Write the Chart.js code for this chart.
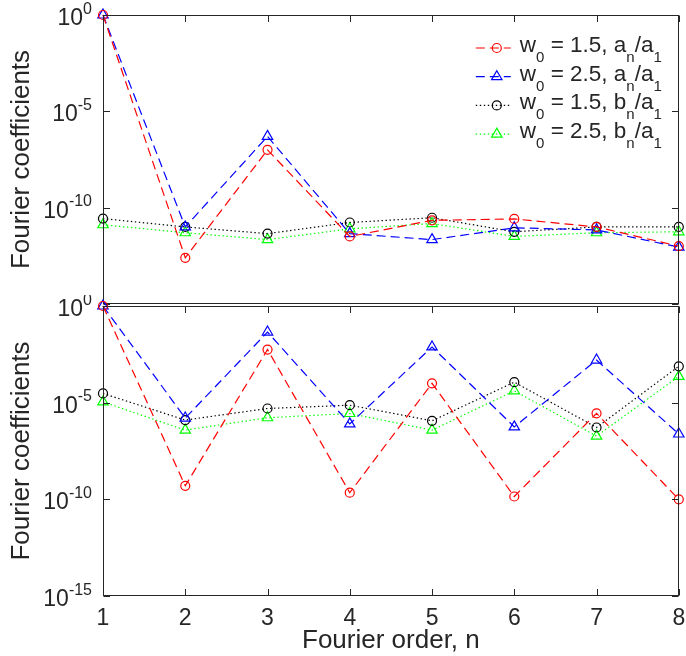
<!DOCTYPE html>
<html>
<head>
<meta charset="utf-8">
<script src="https://cdn.jsdelivr.net/npm/chart.js@4/dist/chart.umd.min.js"></script>
<style>
  html, body { margin: 0; padding: 0; background: #fff; }
  body { width: 686px; height: 656px; position: relative; overflow: hidden; }
  .panel { position: absolute; left: 0; width: 686px; }
  #topPanel { top: 0; height: 320px; }
  #bottomPanel { top: 295px; height: 361px; }
</style>
</head>
<body>
<div class="panel" id="topPanel"><canvas id="topChart"></canvas></div>
<div class="panel" id="bottomPanel"><canvas id="bottomChart"></canvas></div>
<script>
const orders = [1, 2, 3, 4, 5, 6, 7, 8];
const seriesLabels = [
  "w_0 = 1.5, a_n/a_1",
  "w_0 = 2.5, a_n/a_1",
  "w_0 = 1.5, b_n/a_1",
  "w_0 = 2.5, b_n/a_1",
];
const yTickValues = [1, 1e-5, 1e-10, 1e-15];
const yTickLabels = ["10^0", "10^{-5}", "10^{-10}", "10^{-15}"];

// upper panel
const topA15 = [1, 2.5e-13, 1e-7, 3.2e-12, 2.2e-11, 2.6e-11, 1e-11, 1e-12];
const topA25 = [1, 1e-11, 5e-7, 4.5e-12, 2.2e-12, 9e-12, 7e-12, 9e-13];
const topB15 = [2.7e-11, 1e-11, 4.5e-12, 1.7e-11, 3e-11, 5.6e-12, 1e-11, 1e-11];
const topB25 = [1.3e-11, 5e-12, 2.2e-12, 8e-12, 1.5e-11, 3.2e-12, 5e-12, 5.6e-12];

// lower panel
const botA15 = [1, 5e-10, 5.6e-3, 2.2e-10, 1e-4, 1.4e-10, 2.8e-6, 1e-10];
const botA25 = [1, 1.6e-6, 4.5e-2, 8e-7, 7.6e-3, 5.6e-7, 1.6e-3, 2.4e-7];
const botB15 = [3e-5, 1.26e-6, 5e-6, 7.4e-6, 1.15e-6, 1.15e-4, 5.2e-7, 7.6e-4];
const botB25 = [1.1e-5, 3.8e-7, 1.66e-6, 2.75e-6, 3.8e-7, 4.1e-5, 1.86e-7, 2.3e-4];

const FONT = "'Liberation Sans', Arial, Helvetica, sans-serif";
const AXIS = "#262626";
const colors = ["#ff0000", "#0000ff", "#000000", "#00ff00"];
const styles = ["circle", "triangle", "circle", "triangle"];
const dashes = [[9, 5], [9, 5], [1.4, 2.6], [1.4, 2.6]];

Chart.defaults.font.family = FONT;
Chart.defaults.color = AXIS;

// tiny tex-ish parser: handles ^x, ^{..}, _x, _{..}
function splitTex(str) {
  const out = [];
  let buf = "", i = 0;
  while (i < str.length) {
    const c = str[i];
    if (c === "^" || c === "_") {
      if (buf) { out.push({ t: buf, m: 0 }); buf = ""; }
      let s;
      if (str[i + 1] === "{") {
        const j = str.indexOf("}", i);
        s = str.slice(i + 2, j);
        i = j + 1;
      } else {
        s = str[i + 1];
        i += 2;
      }
      out.push({ t: s, m: c === "^" ? 1 : -1 });
    } else {
      buf += c;
      i++;
    }
  }
  if (buf) out.push({ t: buf, m: 0 });
  return out;
}

function texWidth(ctx, parts, big, small) {
  let w = 0;
  parts.forEach((p) => {
    ctx.font = (p.m ? small : big) + "px " + FONT;
    w += ctx.measureText(p.t).width;
  });
  return w;
}

function drawTex(ctx, parts, x, base, big, small, supDy, subDy) {
  parts.forEach((p) => {
    ctx.font = (p.m ? small : big) + "px " + FONT;
    const dy = p.m === 1 ? supDy : p.m === -1 ? subDy : 0;
    ctx.fillText(p.t, x, base + dy);
    x += ctx.measureText(p.t).width;
  });
}

function drawMarker(ctx, style, x, y, color) {
  ctx.save();
  ctx.strokeStyle = color;
  ctx.lineWidth = 1.2;
  ctx.setLineDash([]);
  ctx.beginPath();
  if (style === "circle") {
    ctx.arc(x, y, 4.5, 0, Math.PI * 2);
  } else {
    const r = 6;
    ctx.moveTo(x, y - r);
    ctx.lineTo(x + r * 0.866, y + r * 0.5);
    ctx.lineTo(x - r * 0.866, y + r * 0.5);
    ctx.closePath();
  }
  ctx.stroke();
  ctx.restore();
}

function makeSet(i, values) {
  return {
    label: seriesLabels[i],
    data: values,
    borderColor: colors[i],
    borderWidth: 1.2,
    borderDash: dashes[i],
    pointStyle: styles[i],
    pointRadius: styles[i] === "triangle" ? 6 : 4.5,
    pointBorderWidth: 1.2,
    pointBorderColor: colors[i],
    pointBackgroundColor: "rgba(0,0,0,0)",
    fill: false,
    tension: 0,
    clip: false,
  };
}

// box, inward ticks, superscript tick labels and legend
function framePlugin(cfg) {
  return {
    id: "frame",
    afterDraw(chart) {
      const { ctx, chartArea: a } = chart;
      const x = chart.scales.x, y = chart.scales.y;
      const L = Math.round(a.left) + 0.5, R = Math.round(a.right) - 0.5;
      const T = Math.round(a.top) + 0.5, B = Math.round(a.bottom) - 0.5;
      const tk = 6.5;
      ctx.save();
      ctx.strokeStyle = AXIS;
      ctx.lineWidth = 1;
      ctx.strokeRect(L, T, R - L, B - T);
      ctx.beginPath();
      orders.forEach((n, i) => {
        const px = Math.round(x.getPixelForTick(i)) + 0.5;
        ctx.moveTo(px, T); ctx.lineTo(px, T + tk);
        if (cfg.bottomTicks) { ctx.moveTo(px, B); ctx.lineTo(px, B - tk); }
      });
      yTickValues.forEach((v) => {
        const py = Math.round(y.getPixelForValue(v)) + 0.5;
        ctx.moveTo(L, py); ctx.lineTo(L + tk, py);
        ctx.moveTo(R, py); ctx.lineTo(R - tk, py);
      });
      ctx.stroke();

      // y tick labels 10^k
      ctx.fillStyle = AXIS;
      ctx.textAlign = "left";
      ctx.textBaseline = "alphabetic";
      for (let i = 0; i < cfg.yLabels; i++) {
        const parts = splitTex(yTickLabels[i]);
        const py = y.getPixelForValue(yTickValues[i]);
        const w = texWidth(ctx, parts, 23, 16);
        drawTex(ctx, parts, a.left - 11 - w, py + 10, 23, 16, -11.5, 0);
      }

      if (cfg.legend) {
        chart.data.datasets.forEach((ds, i) => {
          const ry = a.top + 33 + i * 28.7;
          const mx = a.right - 182;
          ctx.save();
          ctx.strokeStyle = ds.borderColor;
          ctx.lineWidth = 1.2;
          ctx.setLineDash(ds.borderDash);
          ctx.beginPath();
          ctx.moveTo(a.right - 203, ry);
          ctx.lineTo(a.right - 168, ry);
          ctx.stroke();
          ctx.restore();
          drawMarker(ctx, ds.pointStyle, mx, ry, ds.borderColor);
          ctx.fillStyle = AXIS;
          drawTex(ctx, splitTex(ds.label), a.right - 159, ry + 4, 22.5, 15, 0, 10);
        });
      }
      ctx.restore();
    },
  };
}

const yTitle = {
  display: true,
  text: "Fourier coefficients",
  font: { size: 26 },
  color: AXIS,
  padding: { top: 6, bottom: 0 },
};

new Chart(document.getElementById("topChart"), {
  type: "line",
  data: {
    labels: orders,
    datasets: [makeSet(0, topA15), makeSet(1, topA25), makeSet(2, topB15), makeSet(3, topB25)],
  },
  options: {
    responsive: true,
    maintainAspectRatio: false,
    animation: false,
    layout: { padding: { top: 15, right: 5, bottom: 16, left: 0 } },
    plugins: { legend: { display: false }, tooltip: { enabled: false } },
    scales: {
      x: { display: false, offset: false },
      y: {
        type: "logarithmic",
        min: 1e-15,
        max: 1,
        ticks: { display: false },
        grid: { display: false, drawTicks: false },
        border: { display: false },
        title: yTitle,
        afterFit: (s) => { s.width = 103; },
      },
    },
  },
  plugins: [framePlugin({ yLabels: 3, legend: true, bottomTicks: false })],
});

new Chart(document.getElementById("bottomChart"), {
  type: "line",
  data: {
    labels: orders,
    datasets: [makeSet(0, botA15), makeSet(1, botA25), makeSet(2, botB15), makeSet(3, botB25)],
  },
  options: {
    responsive: true,
    maintainAspectRatio: false,
    animation: false,
    layout: { padding: { top: 11, right: 5, bottom: 0, left: 0 } },
    plugins: { legend: { display: false }, tooltip: { enabled: false } },
    scales: {
      x: {
        offset: false,
        grid: { display: false, drawTicks: false },
        border: { display: false },
        ticks: { font: { size: 23 }, color: AXIS, padding: 9, maxRotation: 0, autoSkip: false },
        title: {
          display: true,
          text: "Fourier order, n",
          font: { size: 26 },
          color: AXIS,
          padding: { top: 0, bottom: 0 },
        },
        afterFit: (s) => { s.height = 60; s.paddingLeft = 0; s.paddingRight = 0; },
      },
      y: {
        type: "logarithmic",
        min: 1e-15,
        max: 1,
        ticks: { display: false },
        grid: { display: false, drawTicks: false },
        border: { display: false },
        title: yTitle,
        afterFit: (s) => { s.width = 103; },
      },
    },
  },
  plugins: [framePlugin({ yLabels: 4, legend: false, bottomTicks: true })],
});
</script>
</body>
</html>
